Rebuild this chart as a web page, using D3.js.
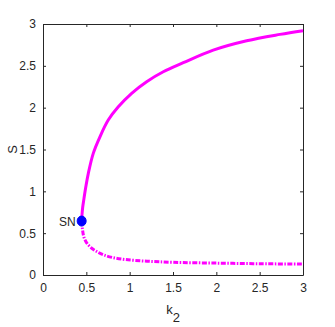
<!DOCTYPE html>
<html>
<head>
<meta charset="utf-8">
<script src="https://cdn.jsdelivr.net/npm/d3@7"></script>
<style>
  html, body { margin: 0; padding: 0; background: #fff; }
  svg text { font-family: "Liberation Sans", Arial, sans-serif; fill: #262626; }
</style>
</head>
<body>
<svg id="chart" width="335" height="327"></svg>
<script>
// stable branch (solid), from the fold upward
const stableK = [0.446, 0.45, 0.458, 0.473, 0.495, 0.523, 0.58, 0.657, 0.753, 0.869, 1.023, 1.196, 1.388, 1.618, 1.964, 2.35, 2.734, 3.0];
const stableS = [0.645, 0.72, 0.81, 0.916, 1.06, 1.215, 1.454, 1.652, 1.852, 2.01, 2.171, 2.31, 2.429, 2.537, 2.688, 2.80, 2.876, 2.92];
// unstable branch (dash-dot), from the fold downward
const unstableK = [0.446, 0.455, 0.47, 0.5, 0.55, 0.62, 0.7, 0.8, 0.95, 1.2, 1.5, 2.0, 2.5, 3.0];
const unstableS = [0.645, 0.55, 0.46, 0.39, 0.33, 0.28, 0.24, 0.21, 0.185, 0.165, 0.152, 0.142, 0.135, 0.13];
// saddle-node point
const snPoint = {k: 0.446, s: 0.645, label: "SN"};
const xTicks = [0, 0.5, 1, 1.5, 2, 2.5, 3];
const yTicks = [0, 0.5, 1, 1.5, 2, 2.5, 3];

const svg = d3.select("#chart");
const mLeft = 43, mRight = 303, mTop = 24, mBottom = 275;
const axisColor = "#262626";

const x = d3.scaleLinear().domain([0, 3]).range([mLeft, mRight]);
const y = d3.scaleLinear().domain([0, 3]).range([mBottom, mTop]);

// box + inward ticks on all four sides
function styleAxis(g) {
    g.select(".domain").attr("stroke", axisColor).attr("stroke-width", 1);
    g.selectAll(".tick line").attr("stroke", axisColor);
    g.selectAll("text").attr("font-size", 12).attr("fill", axisColor)
        .attr("font-family", "'Liberation Sans', Arial, sans-serif");
}

svg.append("g").attr("transform", `translate(0,${mBottom})`)
    .call(d3.axisBottom(x).tickValues(xTicks).tickFormat(d3.format("")).tickSizeInner(-3).tickSizeOuter(0).tickPadding(8))
    .call(styleAxis);
svg.append("g").attr("transform", `translate(0,${mTop})`)
    .call(d3.axisTop(x).tickValues(xTicks).tickFormat("").tickSizeInner(-3).tickSizeOuter(0))
    .call(styleAxis);
svg.append("g").attr("transform", `translate(${mLeft},0)`)
    .call(d3.axisLeft(y).tickValues(yTicks).tickFormat(d3.format("")).tickSizeInner(-3).tickSizeOuter(0).tickPadding(7))
    .call(styleAxis);
svg.append("g").attr("transform", `translate(${mRight},0)`)
    .call(d3.axisRight(y).tickValues(yTicks).tickFormat("").tickSizeInner(-3).tickSizeOuter(0))
    .call(styleAxis);

const line = d3.line()
    .x(d => x(d[0]))
    .y(d => y(d[1]))
    .curve(d3.curveCatmullRom.alpha(0.5));

svg.append("path")
    .datum(stableK.map((k, i) => [k, stableS[i]]))
    .attr("d", line)
    .attr("fill", "none")
    .attr("stroke", "#ff00ff")
    .attr("stroke-width", 3);

svg.append("path")
    .datum(unstableK.map((k, i) => [k, unstableS[i]]))
    .attr("d", line)
    .attr("fill", "none")
    .attr("stroke", "#ff00ff")
    .attr("stroke-width", 3)
    .attr("stroke-dasharray", "5,1.5,1.5,1.5");

svg.append("ellipse")
    .attr("cx", x(snPoint.k))
    .attr("cy", y(snPoint.s))
    .attr("rx", 4.5)
    .attr("ry", 5)
    .attr("fill", "#0000ff")
    .attr("stroke", "#0000ff");

svg.append("text")
    .attr("x", x(snPoint.k) - 6)
    .attr("y", y(snPoint.s) + 5)
    .attr("text-anchor", "end")
    .attr("font-size", 12)
    .attr("fill", "#000")
    .text(snPoint.label);

// axis labels
svg.append("text")
    .attr("transform", `translate(17,${(mTop + mBottom) / 2}) rotate(-90)`)
    .attr("text-anchor", "middle")
    .attr("font-size", 13)
    .text("S");

const xl = svg.append("text")
    .attr("x", (mLeft + mRight) / 2)
    .attr("y", 314)
    .attr("text-anchor", "middle")
    .attr("font-size", 13);
xl.append("tspan").text("k");
xl.append("tspan").attr("dy", 8).attr("font-size", 13).text("2");
</script>
</body>
</html>
